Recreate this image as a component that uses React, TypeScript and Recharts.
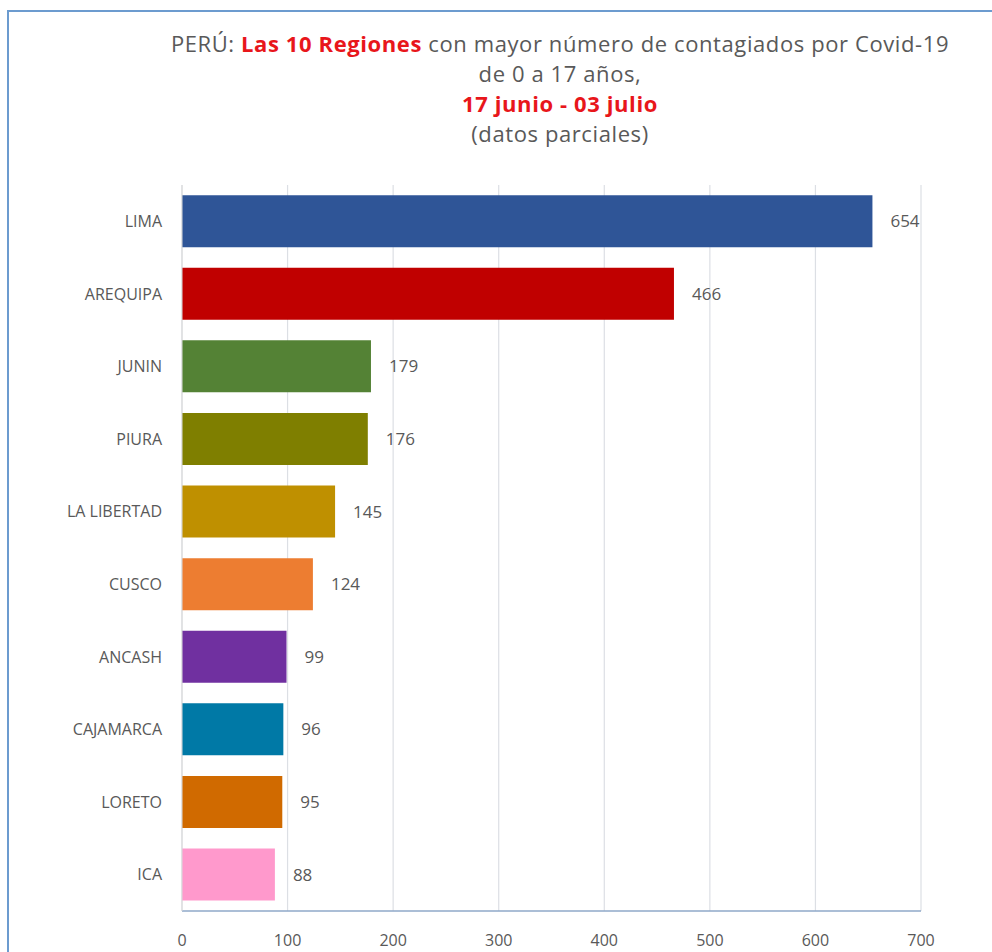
import React from "react";
import { BarChart, Bar, XAxis, YAxis, CartesianGrid, Cell, LabelList } from "recharts";

const regions = ["LIMA", "AREQUIPA", "JUNIN", "PIURA", "LA LIBERTAD", "CUSCO", "ANCASH", "CAJAMARCA", "LORETO", "ICA"];
const cases = [654, 466, 179, 176, 145, 124, 99, 96, 95, 88];
const colors = ["#2F5597", "#C00000", "#548235", "#7F7F00", "#BF9000", "#ED7D31", "#7030A0", "#0079A6", "#D06A00", "#FF99CC"];
const xTicks = [0, 100, 200, 300, 400, 500, 600, 700];
const categoryBoundaries = [0, 1, 2, 3, 4, 5, 6, 7, 8, 9, 10];

const data = regions.map((r, i) => ({ region: r, value: cases[i] }));

const FONT = "'Open Sans', 'Noto Sans', sans-serif";
const GRAY = "#595959";
const RED = "#E8161B";

export default function App() {
  return (
    <div style={{ position: "relative", width: 992, height: 952, fontFamily: FONT, overflow: "hidden", background: "#fff" }}>
      <style>{`html,body{margin:0;padding:0;overflow:hidden;}`}</style>
      <div style={{ position: "absolute", left: 7, top: 10, width: 1000, height: 960, borderLeft: "2px solid #6C9BCF", borderTop: "2px solid #6C9BCF", boxSizing: "border-box" }} />
      <div style={{ position: "absolute", left: 110, width: 900, top: 28, textAlign: "center", fontSize: 22, lineHeight: "30px", color: GRAY, letterSpacing: 0.6 }}>
        <div>PERÚ: <span style={{ color: RED, fontWeight: 700 }}>Las 10 Regiones</span> con mayor número de contagiados por Covid-19</div>
        <div>de 0 a 17 años,</div>
        <div style={{ color: RED, fontWeight: 700 }}>17 junio - 03 julio</div>
        <div>(datos parciales)</div>
      </div>
      <div style={{ position: "absolute", left: 0, top: 0 }}>
        <BarChart
          width={992}
          height={952}
          data={data}
          layout="vertical"
          margin={{ top: 185, right: 71, bottom: 11, left: 62 }}
          barCategoryGap="14%"
        >
          <CartesianGrid horizontal={false} vertical={true} stroke="#DCDFE4" strokeWidth={1.2} />
          <XAxis
            type="number"
            domain={[0, 700]}
            ticks={xTicks}
            interval={0}
            tickLine={false}
            axisLine={{ stroke: "#8FA8C8", strokeWidth: 1.5 }}
            tick={{ fill: GRAY, fontSize: 16, fontFamily: FONT }}
            tickMargin={18}
            height={30}
          />
          <YAxis
            yAxisId="bounds"
            type="number"
            domain={[0, 10]}
            ticks={categoryBoundaries}
            reversed
            width={0}
            tick={false}
            tickSize={5}
            tickLine={{ stroke: "#C9D3E0" }}
            axisLine={false}
          />
          <YAxis
            type="category"
            dataKey="region"
            width={120}
            tickLine={false}
            axisLine={{ stroke: "#D9D9D9" }}
            tick={{ fill: GRAY, fontSize: 16, fontFamily: FONT }}
            tickMargin={14}
          />
          <Bar dataKey="value" isAnimationActive={false}>
            {data.map((d, i) => (
              <Cell key={d.region} fill={colors[i]} />
            ))}
            <LabelList dataKey="value" position="right" offset={18} style={{ fill: GRAY, fontSize: 17, fontFamily: FONT }} />
          </Bar>
        </BarChart>
      </div>
    </div>
  );
}
